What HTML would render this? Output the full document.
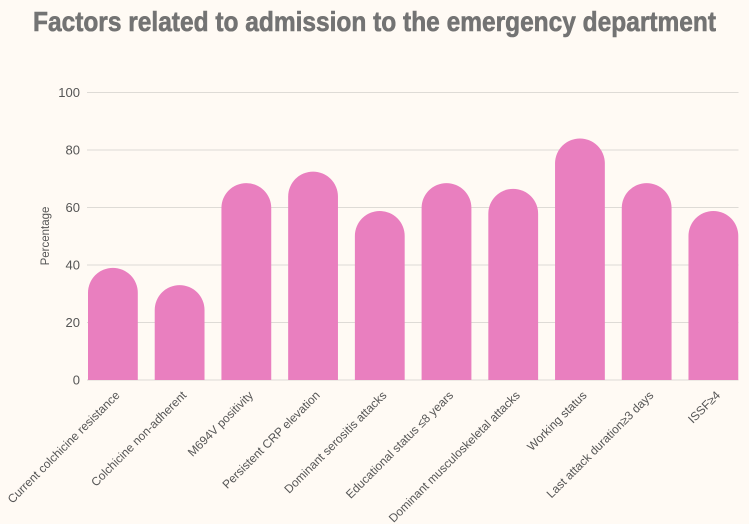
<!DOCTYPE html>
<html>
<head>
<meta charset="utf-8">
<style>
html,body{margin:0;padding:0;background:#fffaf4;}
body{width:749px;height:524px;overflow:hidden;}
svg{display:block;font-family:"Liberation Sans",sans-serif;}
</style>
</head>
<body>
<svg id="chart" width="749" height="524" viewBox="0 0 749 524" xmlns="http://www.w3.org/2000/svg">
<rect x="0" y="0" width="749" height="524" fill="#fffaf4"/>
<text x="33" y="31" font-size="27.5" font-weight="700" fill="#737373" stroke="#737373" stroke-width="0.6" textLength="683" lengthAdjust="spacingAndGlyphs">Factors related to admission to the emergency department</text>
<text transform="translate(49,236) rotate(-90)" text-anchor="middle" font-size="11.5" fill="#555555">Percentage</text>
<g id="grid"></g>
<g id="yticks"></g>
<g id="bars"></g>
<g id="xticks"></g>
</svg>
<script>
const categories = ["Current colchicine resistance","Colchicine non-adherent","M694V positivity","Persistent CRP elevation","Dominant serositis attacks","Educational status ≤8 years","Dominant musculoskeletal attacks","Working status","Last attack duration≥3 days","ISSF≥4"];
const values = [39,33,68.5,72.5,58.8,68.5,66.5,84,68.5,58.8];
const yTicks = [0,20,40,60,80,100];

const NS = "http://www.w3.org/2000/svg";
const plotLeft = 88, plotRight = 738.5, y0 = 380, y100 = 92.5;
const pitch = 66.72, barWidth = 49.8;
function yScale(v){ return y0 - (v/100)*(y0-y100); }
function xScale(i){ return plotLeft + i*pitch; }

const grid = document.getElementById("grid");
const yt = document.getElementById("yticks");
yTicks.forEach(function(t){
  const l = document.createElementNS(NS,"line");
  
  
  l.setAttribute("x1",plotLeft-1);
  l.setAttribute("x2",plotRight);
  l.setAttribute("y1",yScale(t));
  l.setAttribute("y2",yScale(t));
  l.setAttribute("stroke","#dedbd6");
  l.setAttribute("stroke-width","1");
  grid.appendChild(l);
  const s = document.createElementNS(NS,"text");
  
  
  s.setAttribute("x",80);
  s.setAttribute("y",yScale(t)+4.5);
  s.setAttribute("text-anchor","end");
  s.setAttribute("font-size","13");
  s.setAttribute("fill","#555555");
  s.textContent = t;
  yt.appendChild(s);
});

const bars = document.getElementById("bars");
values.forEach(function(v,i){
  const x = xScale(i), y = yScale(v), r = barWidth/2;
  const p = document.createElementNS(NS,"path");
  
  
  p.setAttribute("d","M"+x+" "+y0+"V"+(y+r)+"A"+r+" "+r+" 0 0 1 "+(x+barWidth)+" "+(y+r)+"V"+y0+"Z");
  p.setAttribute("fill","#e97fbf");
  bars.appendChild(p);
});

const xt = document.getElementById("xticks");
categories.forEach(function(c,i){
  const t = document.createElementNS(NS,"text");
  const ax = xScale(i) + barWidth/2 + 7.5, ay = 396;
  
  
  t.setAttribute("transform","translate("+ax+","+ay+") rotate(-45)");
  t.setAttribute("text-anchor","end");
  t.setAttribute("font-size","11.9");
  t.setAttribute("fill","#555555");
  t.textContent = c;
  xt.appendChild(t);
});
</script>
</body>
</html>
